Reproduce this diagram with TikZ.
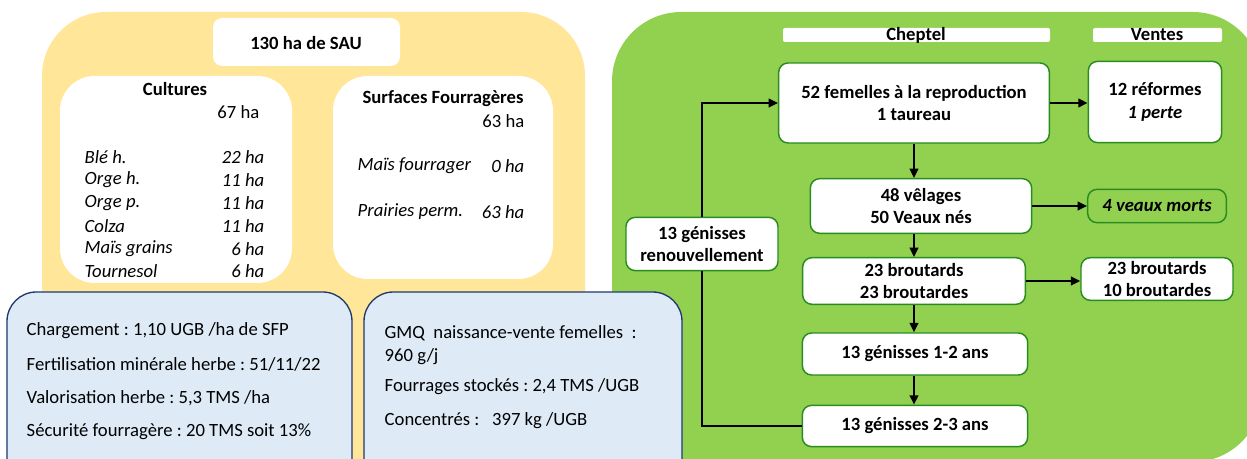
\documentclass[tikz,border=0pt]{standalone}
\usepackage{fontspec}
\setmainfont{Carlito}
\usetikzlibrary{arrows.meta, positioning, calc}
\definecolor{sauyellow}{RGB}{255,230,153}
\definecolor{herdgreen}{RGB}{146,208,80}
\definecolor{edgegreen}{RGB}{40,140,30}
\definecolor{infoblue}{RGB}{222,235,247}
\definecolor{infoborder}{RGB}{31,56,110}
\frenchspacing

\tikzset{
  herdbox/.style={draw=edgegreen, line width=1.1pt, fill=white, rounded corners=7pt,
    align=center, inner sep=0pt, font=\fontsize{14}{17}\selectfont\bfseries},
  flow/.style={-{Triangle[length=7pt,width=6.5pt]}, line width=1.5pt},
  link/.style={line width=1.5pt},
  infotext/.style={anchor=west, font=\fontsize{14}{17}\selectfont},
  croptext/.style={font=\fontsize{14}{17}\selectfont\itshape},
  titletext/.style={font=\fontsize{14}{17}\selectfont\bfseries}
}

\begin{document}
\begin{tikzpicture}[x=0.75pt, y=-0.75pt]
\clip (0,0) rectangle (1247,459);
\fill[white] (0,0) rectangle (1247,459);

% Panels
\fill[sauyellow, rounded corners=48pt] (42,12) rectangle (585,490);
\fill[herdgreen, rounded corners=52pt] (612,12) rectangle (1262,462);

% SAU title
\fill[white, rounded corners=7pt] (213,18) rectangle (400,66);
\node[titletext] (sau) at (306,43) {130 ha de SAU};

% Cultures
\fill[white, rounded corners=26pt] (60,76) rectangle (292,283);
\node[titletext] (cult) at (175,89) {Cultures};
\node[infotext, anchor=east] (cultha) at (264,112) {67 ha};
\node[croptext, anchor=west] (ble) at (80,157) {Blé h.};
\node[croptext, anchor=east] at (269,157) {22 ha};
\node[croptext, anchor=west] (orgeh) at (80,180) {Orge h.};
\node[croptext, anchor=east] at (269,180) {11 ha};
\node[croptext, anchor=west] (orgep) at (80,203) {Orge p.};
\node[croptext, anchor=east] at (269,203) {11 ha};
\node[croptext, anchor=west] (colza) at (80,226) {Colza};
\node[croptext, anchor=east] at (269,226) {11 ha};
\node[croptext, anchor=west] (mais) at (80,249) {Maïs grains};
\node[croptext, anchor=east] at (269,249) {6 ha};
\node[croptext, anchor=west] (tourn) at (80,271) {Tournesol};
\node[croptext, anchor=east] at (269,271) {6 ha};

% Surfaces fourrageres
\fill[white, rounded corners=26pt] (333,76) rectangle (553,279);
\node[titletext] (sfp) at (443,99) {Surfaces Fourragères};
\node[infotext, anchor=east] (sfpha) at (529,121) {63 ha};
\node[croptext, anchor=west] (maisf) at (353,166) {Maïs fourrager};
\node[croptext, anchor=east] at (529,166) {0 ha};
\node[croptext, anchor=west] (prair) at (353,212) {Prairies perm.};
\node[croptext, anchor=east] at (529,212) {63 ha};

% Indicateurs
\draw[infoborder, fill=infoblue, line width=1pt, rounded corners=22pt] (7,292) rectangle (352,490);
\node[infotext] (charg) at (22,331) {Chargement : 1,10 UGB /ha de SFP};
\node[infotext] (ferti) at (22,364) {Fertilisation minérale herbe : 51/11/22};
\node[infotext] (valo) at (22,398) {Valorisation herbe : 5,3 TMS /ha};
\node[infotext] (secu) at (22,432) {Sécurité fourragère : 20 TMS soit 13\%};

\draw[infoborder, fill=infoblue, line width=1pt, rounded corners=22pt] (364,292) rectangle (682,490);
\node[infotext] (gmq) at (380,333) {GMQ\ \ naissance-vente femelles\ \ :};
\node[infotext] (gmqv) at (380,357) {960 g/j};
\node[infotext] (stock) at (380,387) {Fourrages stockés : 2,4 TMS /UGB};
\node[infotext] (conc) at (380,421) {Concentrés :\ \ \ 397 kg /UGB};

% Headers
\fill[white, rounded corners=1.5pt] (783,28) rectangle (1050,42);
\node[titletext] (chep) at (916,35) {Cheptel};
\fill[white, rounded corners=1.5pt] (1093,28) rectangle (1222,42);
\node[titletext] (vent) at (1157,35) {Ventes};

% Cheptel
\node[herdbox, minimum width=203pt, minimum height=60pt] (fem) at (914,103) {52 femelles à la reproduction\\1 taureau};
\node[herdbox, minimum width=100pt, minimum height=61pt] (ref) at (1155,102) {12 réformes\\\textit{1 perte}};
\node[herdbox, minimum width=166pt, minimum height=41pt] (vel) at (921,206) {48 vêlages\\50 Veaux nés};
\node[herdbox, fill=herdgreen, minimum width=104pt, minimum height=25pt, font=\fontsize{14}{17}\selectfont\bfseries\itshape] (morts) at (1157,206) {4 veaux morts};
\node[herdbox, minimum width=114pt, minimum height=40pt] (ren) at (702,244) {13 génisses\\renouvellement};
\node[herdbox, minimum width=167pt, minimum height=35pt] (brout) at (914,281) {23 broutards\\23 broutardes};
\node[herdbox, minimum width=114pt, minimum height=32pt] (vbrout) at (1157,279) {23 broutards\\10 broutardes};
\node[herdbox, minimum width=169pt, minimum height=31.5pt] (g12) at (915,354) {13 génisses 1-2 ans};
\node[herdbox, minimum width=169pt, minimum height=31pt] (g23) at (915,426) {13 génisses 2-3 ans};

% Flux
\draw[flow] (ren.north) |- (fem.west);
\draw[link] (g23.west) -| (ren.south);
\draw[flow] (fem.south) -- (fem.south |- vel.north);
\draw[flow] (fem.east) -- (ref.west |- fem.east);
\draw[flow] (vel.east) -- (morts.west);
\draw[flow] (fem.south |- vel.south) -- (fem.south |- brout.north);
\draw[flow] (brout.east) -- (vbrout.west |- brout.east);
\draw[flow] (fem.south |- brout.south) -- (fem.south |- g12.north);
\draw[flow] (fem.south |- g12.south) -- (fem.south |- g23.north);
\end{tikzpicture}
\end{document}
